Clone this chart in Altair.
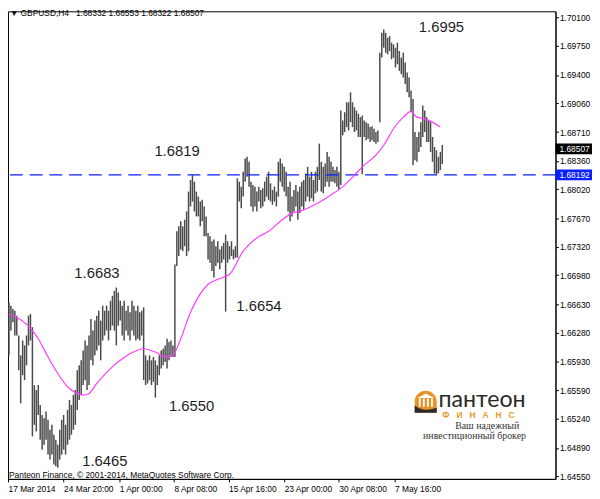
import altair as alt
import pandas as pd

# ---------------- data ----------------
HIGH = [
    1.6665, 1.6661, 1.6657, 1.6655, 1.6649, 1.6625, 1.6601, 1.6619, 1.6613, 1.6625,
    1.6649, 1.6651, 1.6635, 1.6565, 1.6559, 1.6565, 1.6541, 1.6529, 1.6525, 1.6533,
    1.6523, 1.6511, 1.6517, 1.6505, 1.6499, 1.6493, 1.6511, 1.6523, 1.6529, 1.6517,
    1.6535, 1.6547, 1.6541, 1.6553, 1.6559, 1.6583, 1.6589, 1.6595, 1.6607, 1.6619,
    1.6613, 1.6625, 1.6645, 1.6631, 1.6643, 1.6649, 1.6655, 1.6643, 1.6661, 1.6655,
    1.6661, 1.6655, 1.6667, 1.6673, 1.6679, 1.6683, 1.6677, 1.6667, 1.6661, 1.6667,
    1.6655, 1.6661, 1.6653, 1.6667, 1.6661, 1.6655, 1.6661, 1.6653, 1.6655, 1.6659,
    1.6601, 1.6595, 1.6601, 1.6595, 1.6599, 1.6595, 1.6589, 1.6601, 1.6607, 1.6609,
    1.6613, 1.6621, 1.6617, 1.6619, 1.6613, 1.6711, 1.6751, 1.6757, 1.6763, 1.6757,
    1.6765, 1.6775, 1.6799, 1.6813, 1.6819, 1.6811, 1.6799, 1.6793, 1.6787, 1.6789,
    1.6781, 1.6769, 1.6749, 1.6745, 1.6739, 1.6741, 1.6733, 1.6739, 1.6729, 1.6733,
    1.6737, 1.6747, 1.6739, 1.6733, 1.6739, 1.6729, 1.6733, 1.6815, 1.6811, 1.6805,
    1.6823, 1.6839, 1.6841, 1.6835, 1.6811, 1.6807, 1.6805, 1.6799, 1.6805, 1.6801,
    1.6803, 1.6811, 1.6817, 1.6823, 1.6809, 1.6801, 1.6805, 1.6799, 1.6835, 1.6839,
    1.6833, 1.6829, 1.6823, 1.6805, 1.6811, 1.6793, 1.6801, 1.6807, 1.6799, 1.6805,
    1.6811, 1.6813, 1.6821, 1.6829, 1.6817, 1.6823, 1.6813, 1.6823, 1.6829, 1.6857,
    1.6835, 1.6829, 1.6833, 1.6847, 1.6841, 1.6835, 1.6829, 1.6825, 1.6829, 1.6823,
    1.6897, 1.6885, 1.6895, 1.6907, 1.6907, 1.6919, 1.6907, 1.6901, 1.6897, 1.6893,
    1.6889, 1.6891, 1.6885, 1.6883, 1.6881, 1.6877, 1.6878, 1.6875, 1.6871, 1.6873,
    1.6967, 1.6991, 1.6995, 1.6991, 1.6985, 1.6987, 1.6979, 1.6977, 1.6973, 1.6979,
    1.6969, 1.6961, 1.6967, 1.6955, 1.6943, 1.6937, 1.6921, 1.6911, 1.6871, 1.6865,
    1.6871, 1.6883, 1.6903, 1.6897, 1.6889, 1.6885, 1.6883, 1.6865, 1.6853, 1.6849,
    1.6841, 1.6847, 1.68553,
]
LOW = [
    1.6601, 1.6631, 1.6641, 1.6625, 1.6625, 1.6583, 1.6543, 1.6577, 1.6571, 1.6589,
    1.6613, 1.6619, 1.6503, 1.6517, 1.6509, 1.6529, 1.6499, 1.6487, 1.6493, 1.6499,
    1.6481, 1.6475, 1.6481, 1.6469, 1.6467, 1.6465, 1.6475, 1.6481, 1.6487, 1.6481,
    1.6493, 1.6499, 1.6505, 1.6511, 1.6517, 1.6535, 1.6547, 1.6553, 1.6565, 1.6571,
    1.6559, 1.6565, 1.6595, 1.6589, 1.6601, 1.6607, 1.6613, 1.6595, 1.6619, 1.6625,
    1.6631, 1.6619, 1.6631, 1.6637, 1.6631, 1.6613, 1.6637, 1.6643, 1.6625, 1.6619,
    1.6631, 1.6625, 1.6619, 1.6631, 1.6625, 1.6619, 1.6621, 1.6619, 1.6625, 1.6571,
    1.6565, 1.6567, 1.6571, 1.6565, 1.6569, 1.6550, 1.6565, 1.6577, 1.6585, 1.6589,
    1.6593, 1.6585, 1.6595, 1.6599, 1.6599, 1.6599, 1.6709, 1.6721, 1.6729, 1.6727,
    1.6733, 1.6721, 1.6727, 1.6781, 1.6787, 1.6775, 1.6769, 1.6769, 1.6757, 1.6763,
    1.6745, 1.6745, 1.6717, 1.6713, 1.6703, 1.6695, 1.6709, 1.6713, 1.6705, 1.6713,
    1.6717, 1.6654, 1.6713, 1.6717, 1.6721, 1.6717, 1.6719, 1.6719, 1.6787, 1.6779,
    1.6793, 1.6811, 1.6817, 1.6805, 1.6781, 1.6775, 1.6781, 1.6775, 1.6787, 1.6779,
    1.6781, 1.6787, 1.6793, 1.6789, 1.6787, 1.6783, 1.6787, 1.6781, 1.6793, 1.6811,
    1.6805, 1.6799, 1.6793, 1.6775, 1.6763, 1.6769, 1.6775, 1.6781, 1.6765, 1.6773,
    1.6781, 1.6777, 1.6787, 1.6793, 1.6787, 1.6791, 1.6787, 1.6797, 1.6799, 1.6813,
    1.6799, 1.6797, 1.6805, 1.6811, 1.6805, 1.6811, 1.6811, 1.6809, 1.6805, 1.6801,
    1.6807, 1.6867, 1.6871, 1.6877, 1.6873, 1.6883, 1.6877, 1.6871, 1.6873, 1.6865,
    1.6865, 1.6820, 1.6865, 1.6861, 1.6863, 1.6859, 1.6861, 1.6859, 1.6857, 1.6859,
    1.6883, 1.6961, 1.6973, 1.6967, 1.6965, 1.6969, 1.6959, 1.6961, 1.6949, 1.6953,
    1.6945, 1.6941, 1.6937, 1.6929, 1.6919, 1.6913, 1.6895, 1.6831, 1.6837, 1.6835,
    1.6847, 1.6853, 1.6865, 1.6871, 1.6859, 1.6859, 1.6847, 1.6835, 1.6821, 1.6820,
    1.6821, 1.6825, 1.68322,
]
MA_IDX = [0, 12, 15, 20, 25, 30, 35, 38, 41, 45, 52, 57, 62, 69, 75, 80, 84, 87, 93, 102,
          107, 113, 120, 127, 133, 140, 145, 150, 158, 165, 171, 177, 182, 188, 192, 197,
          202, 206, 209, 213, 217, 221]
MA_VAL = [1.6651, 1.6631, 1.6621, 1.6599, 1.6579, 1.6563, 1.6555, 1.6553, 1.6555, 1.6567,
          1.6585, 1.6595, 1.6603, 1.6609, 1.6605, 1.6599, 1.6601, 1.6615, 1.6653, 1.6687,
          1.6693, 1.6699, 1.6727, 1.6743, 1.6751, 1.6765, 1.6773, 1.6776, 1.6785, 1.6795,
          1.6805, 1.6819, 1.6831, 1.6843, 1.6855, 1.6875, 1.6889, 1.6896, 1.6889, 1.6887,
          1.6883, 1.6877]

Y_TICKS = [1.64550, 1.64890, 1.65240, 1.65590, 1.65930, 1.66280, 1.66630, 1.66980, 1.67320,
           1.67670, 1.68020, 1.68360, 1.68710, 1.69060, 1.69400, 1.69750, 1.70100]
X_TICK_POS = [-0.5, 28, 56.5, 84.5, 112.5, 141, 169, 197.5]
X_TICK_LABELS = ["17 Mar 2014", "24 Mar 20:00", "1 Apr 00:00", "8 Apr 08:00",
                 "15 Apr 16:00", "23 Apr 00:00", "30 Apr 08:00", "7 May 16:00"]

LEVEL = 1.68192
LAST_CLOSE = 1.68507

NOTE_TEXT = ["1.6819", "1.6683", "1.6654", "1.6550", "1.6465", "1.6995"]
NOTE_IDX = [74.5, 33.5, 116.5, 82, 37.5, 210]
NOTE_PRICE = [1.68486, 1.67003, 1.66608, 1.65401, 1.64731, 1.69980]

HEADER = "\u25BC GBPUSD,H4\u00a0\u00a0 1.68332 1.68553 1.68322 1.68507"
COPYRIGHT = "Panteon Finance, \u00a9 2001-2014, MetaQuotes Software Corp."

# ---------------- chart ----------------
X_DOMAIN = [-0.5, 280]
Y_DOMAIN = [1.64516, 1.70170]
xs = alt.Scale(domain=X_DOMAIN, nice=False, zero=False)
ys = alt.Scale(domain=Y_DOMAIN, nice=False, zero=False)
FONT = "Liberation Sans"
BLUE = "#0a1eff"

label_expr = " : ".join(
    f"datum.value == {p} ? '{l}'" for p, l in zip(X_TICK_POS, X_TICK_LABELS)
) + " : ''"

x_axis = alt.Axis(values=X_TICK_POS, labelExpr=label_expr, tickSize=3, labelPadding=3,
                  labelAlign="left", labelBaseline="top", labelFontSize=8.5, labelFont=FONT,
                  labelColor="black", tickColor="black", domainColor="black",
                  grid=False, title=None, labelOverlap=False, labelFlush=False)
y_axis = alt.Axis(orient="right", values=Y_TICKS, format=".5f", tickSize=3, labelPadding=1,
                  labelFontSize=8.5, labelFont=FONT, labelColor="black", tickColor="black",
                  domainColor="black", grid=False, title=None, labelOverlap=False,
                  labelFlush=False)


def X(field):
    return alt.X(field, type="quantitative", scale=xs, axis=x_axis)


def Y(field):
    return alt.Y(field, type="quantitative", scale=ys, axis=y_axis)


bars_df = pd.DataFrame({"i": list(range(len(HIGH))), "high": HIGH, "low": LOW})
ma_df = pd.DataFrame({"i": MA_IDX, "ma": MA_VAL})
notes_df = pd.DataFrame({"i": NOTE_IDX, "p": NOTE_PRICE, "t": NOTE_TEXT})

bars = alt.Chart(bars_df).mark_rule(color="#4a4a4a", strokeWidth=1.5).encode(
    x=X("i"), y=Y("high"), y2="low",
)

ma = alt.Chart(ma_df).mark_line(color="#ff3cff", strokeWidth=1.2, interpolate="monotone").encode(
    x=X("i"), y=Y("ma"),
)

level = alt.Chart(pd.DataFrame({"v": [LEVEL]})).mark_rule(
    color=BLUE, strokeWidth=1.3, strokeDash=[13, 7]
).encode(y=Y("v"))

notes = alt.Chart(notes_df).mark_text(
    align="left", baseline="middle", fontSize=15, font=FONT, color="#1e1e1e"
).encode(x=X("i"), y=Y("p"), text="t:N")

small_df = pd.DataFrame({"i": [0.5, 0.0], "p": [1.70148, 1.64564], "t": [HEADER, COPYRIGHT]})
small = alt.Chart(small_df).mark_text(
    align="left", baseline="middle", fontSize=8.5, font=FONT, color="black"
).encode(x=X("i"), y=Y("p"), text="t:N")

# price boxes on the right axis
box_df = pd.DataFrame({"v": [LAST_CLOSE, LEVEL], "c": ["black", BLUE],
                       "t": ["1.68507", "1.68192"]})
boxes = alt.Chart(box_df).mark_rule(strokeWidth=11, strokeCap="butt").encode(
    y=Y("v"),
    x=alt.value(555), x2=alt.value(592),
    color=alt.Color("c:N", scale=None, legend=None),
)
box_text = alt.Chart(box_df).mark_text(
    align="left", baseline="middle", fontSize=8.5, font=FONT, color="white"
).encode(y=Y("v"), x=alt.value(559), text="t:N")

# logo (Пантеон Финанс)
ICON_BG = "M-1,1 L-1,0 A1,1 0 0,1 1,0 L1,1 Z"
ICON_SW = "M-1,1 L-1,0.35 Q-0.2,1.0 1,0.55 L1,1 Z"
ICON_COL = ("M-0.62,0.45 h0.16 v-0.75 h-0.16 Z M-0.25,0.45 h0.16 v-0.75 h-0.16 Z "
            "M0.12,0.45 h0.16 v-0.75 h-0.16 Z M0.49,0.45 h0.16 v-0.75 h-0.16 Z "
            "M-0.75,-0.35 L0,-0.75 L0.78,-0.35 Z")
icon_df = pd.DataFrame({"i": [213.5], "p": [1.65449]})
icon_bg = alt.Chart(icon_df).mark_point(shape=ICON_BG, filled=True, size=500,
                                        color="#e8932a", opacity=1).encode(x=X("i"), y=Y("p"))
icon_col = alt.Chart(icon_df).mark_point(shape=ICON_COL, filled=True, size=500,
                                         color="white", opacity=1).encode(x=X("i"), y=Y("p"))
icon_sw = alt.Chart(icon_df).mark_point(shape=ICON_SW, filled=True, size=500,
                                        color="#2a2a2a", opacity=1).encode(x=X("i"), y=Y("p"))

logo_name = alt.Chart(pd.DataFrame({"i": [220], "p": [1.65389], "t": ["пантеон"]})).mark_text(
    align="left", baseline="alphabetic", fontSize=23.5, font="Lato", color="#2a2a2a"
).encode(x=X("i"), y=Y("p"), text="t:N")

sp = "\u00a0\u00a0\u00a0"
logo_sub = alt.Chart(pd.DataFrame({"i": [240.5], "p": [1.65283],
                                   "t": [sp.join(list("ФИНАНС"))]})).mark_text(
    align="center", baseline="middle", fontSize=8.5, font=FONT, fontWeight="bold", color="#e39a2b"
).encode(x=X("i"), y=Y("p"), text="t:N")

slogan = alt.Chart(pd.DataFrame({"i": [245, 238.5], "p": [1.65115, 1.64995],
                                 "t": ["Ваш надежный", "инвестиционный брокер"]})).mark_text(
    align="center", baseline="alphabetic", fontSize=10, font="Liberation Serif", color="#333333"
).encode(x=X("i"), y=Y("p"), text="t:N")

chart = alt.layer(
    bars, level, ma, notes, small, icon_bg, icon_col, icon_sw, logo_name, logo_sub, slogan,
    boxes, box_text,
).properties(
    width=555, height=474, background="white",
    padding={"left": 0, "top": 0, "right": 37, "bottom": 16},
    autosize=alt.AutoSizeParams(type="none"),
).configure_view(stroke="black", strokeWidth=1)

chart.save("out.html", embed_options={"renderer": "svg", "actions": False})
